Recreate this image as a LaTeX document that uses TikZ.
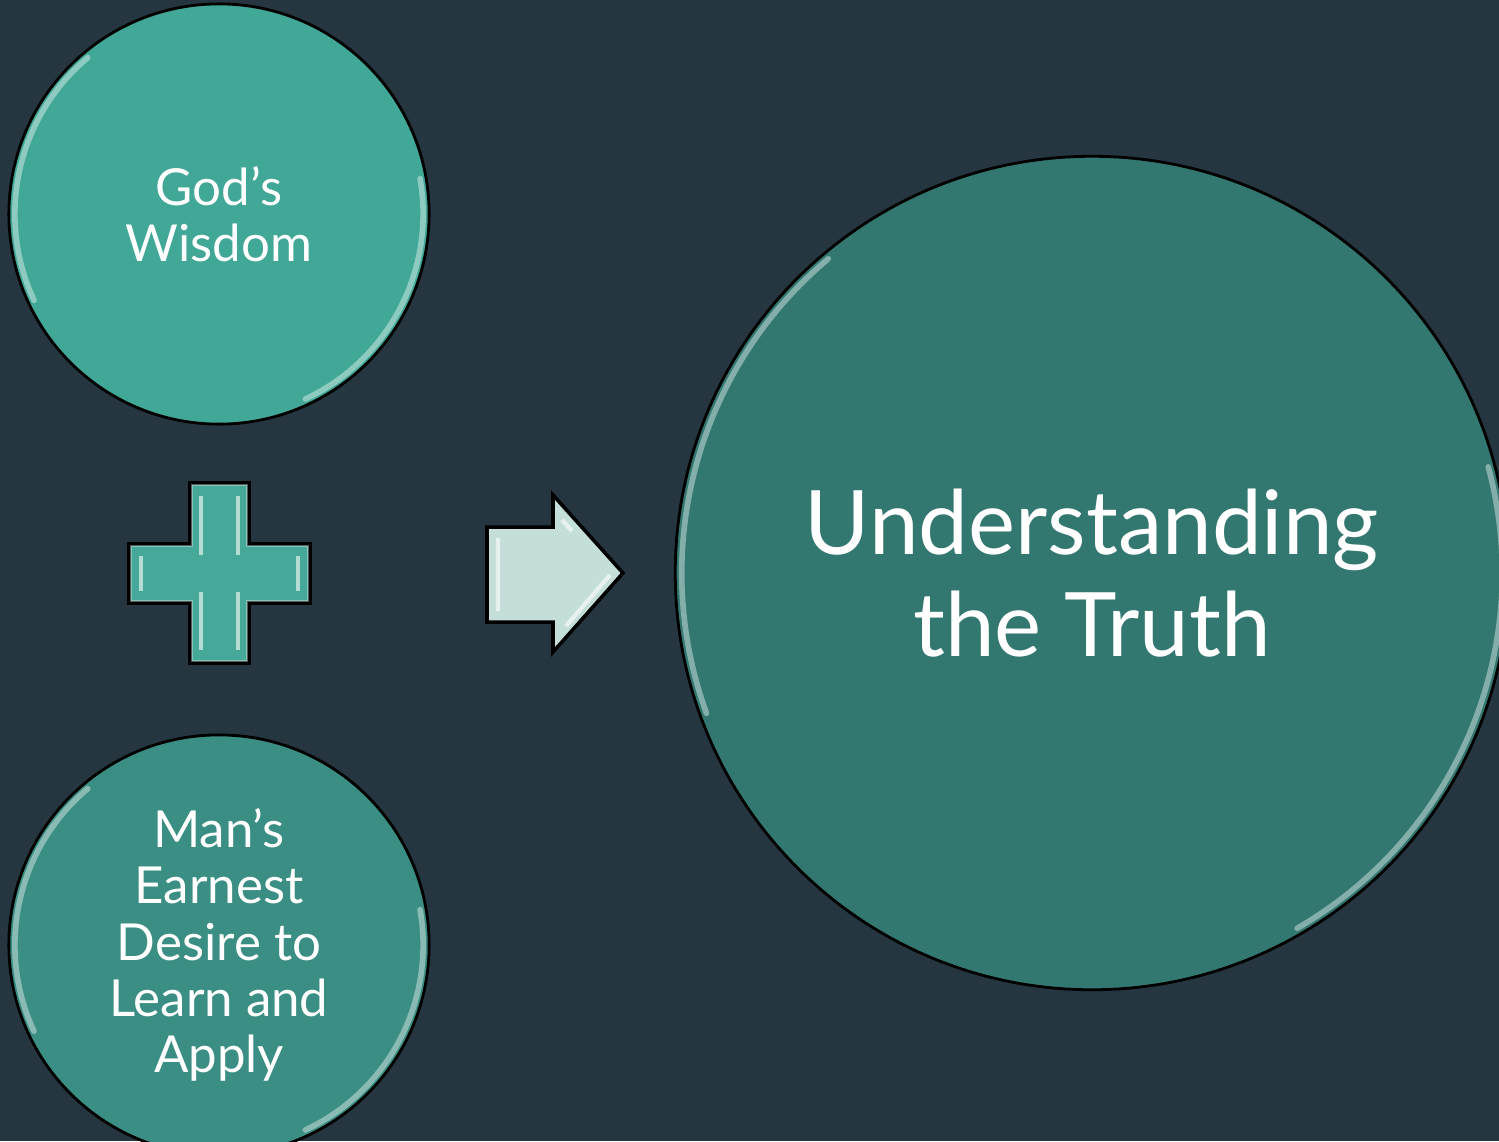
\documentclass[tikz,border=0pt]{standalone}
\usepackage{fontspec}
\setmainfont{Lato}
\definecolor{bgdark}{HTML}{253640}
\definecolor{tealA}{HTML}{41A797}
\definecolor{tealB}{HTML}{3B8E83}
\definecolor{tealC}{HTML}{337870}
\definecolor{plusfill}{HTML}{45A898}
\definecolor{arrowfill}{HTML}{C4DFD9}
\begin{document}
\begin{tikzpicture}[x=0.01cm, y=-0.01cm]
  \tikzstyle{bubble}=[circle, draw=black, line width=0.8pt, text=white, align=center, inner sep=0pt]
  \tikzstyle{small}=[minimum size=4.2cm, font=\fontsize{14.5}{16}\selectfont]
  \tikzstyle{big}=[minimum size=8.33cm, font=\fontsize{25.3}{29}\selectfont]
  \tikzstyle{rim}=[white, opacity=0.4, line width=1.6pt, line cap=round]
  \tikzstyle{block}=[draw=black, line width=1pt, line join=miter]
  \tikzstyle{bevel}=[white, opacity=0.6, line width=1.2pt]

  \fill[bgdark] (0,0) rectangle (1499,1141);
  \useasboundingbox (0,0) rectangle (1499,1141);

  \begin{scope}
    \clip (0,0) rectangle (1499,1141);
    \node[bubble, small, fill=tealA] (wisdom) at (219,214) {God’s\\Wisdom};
    \node[bubble, small, fill=tealB] (desire) at (219,945) {Man’s\\Earnest\\Desire to\\Learn and\\Apply};
    \node[bubble, big,   fill=tealC] (truth)  at (1092,573) {Understanding\\the Truth};

    % glossy rims
    \draw[rim] ([shift={(130:2.04cm)}]wisdom.center) arc[start angle=130, end angle=205, radius=2.04cm];
    \draw[rim] ([shift={(10:2.04cm)}]wisdom.center) arc[start angle=10, end angle=-65, radius=2.04cm];
    \draw[rim] ([shift={(130:2.04cm)}]desire.center) arc[start angle=130, end angle=205, radius=2.04cm];
    \draw[rim] ([shift={(10:2.04cm)}]desire.center) arc[start angle=10, end angle=-65, radius=2.04cm];
    \draw[rim] ([shift={(130:4.1cm)}]truth.center) arc[start angle=130, end angle=200, radius=4.1cm];
    \draw[rim] ([shift={(15:4.1cm)}]truth.center) arc[start angle=15, end angle=-60, radius=4.1cm];
  \end{scope}

  % plus sign
  \draw[block, fill=plusfill] (190,483) -- (249,483) -- (249,544) -- (310,544) -- (310,603)
    -- (249,603) -- (249,663) -- (190,663) -- (190,603) -- (129,603) -- (129,544)
    -- (190,544) -- cycle;
  \draw[white, opacity=0.35, line width=0.6pt] (192,485) -- (247,485) -- (247,546) -- (308,546) -- (308,601)
    -- (247,601) -- (247,661) -- (192,661) -- (192,601) -- (131,601) -- (131,546)
    -- (192,546) -- cycle;
  \draw[bevel] (201,496) -- (201,555) (238,496) -- (238,555)
               (201,592) -- (201,650) (238,592) -- (238,650)
               (141,556) -- (141,591) (298,556) -- (298,591);

  % block arrow
  \draw[block, fill=arrowfill] (487,527) -- (553,527) -- (553,495) -- (623,573)
    -- (553,652) -- (553,622) -- (487,622) -- cycle;
  \draw[bevel] (498,538) -- (498,611)
               (562,520) -- (572,531)
               (610,575) -- (566,626);
\end{tikzpicture}
\end{document}
